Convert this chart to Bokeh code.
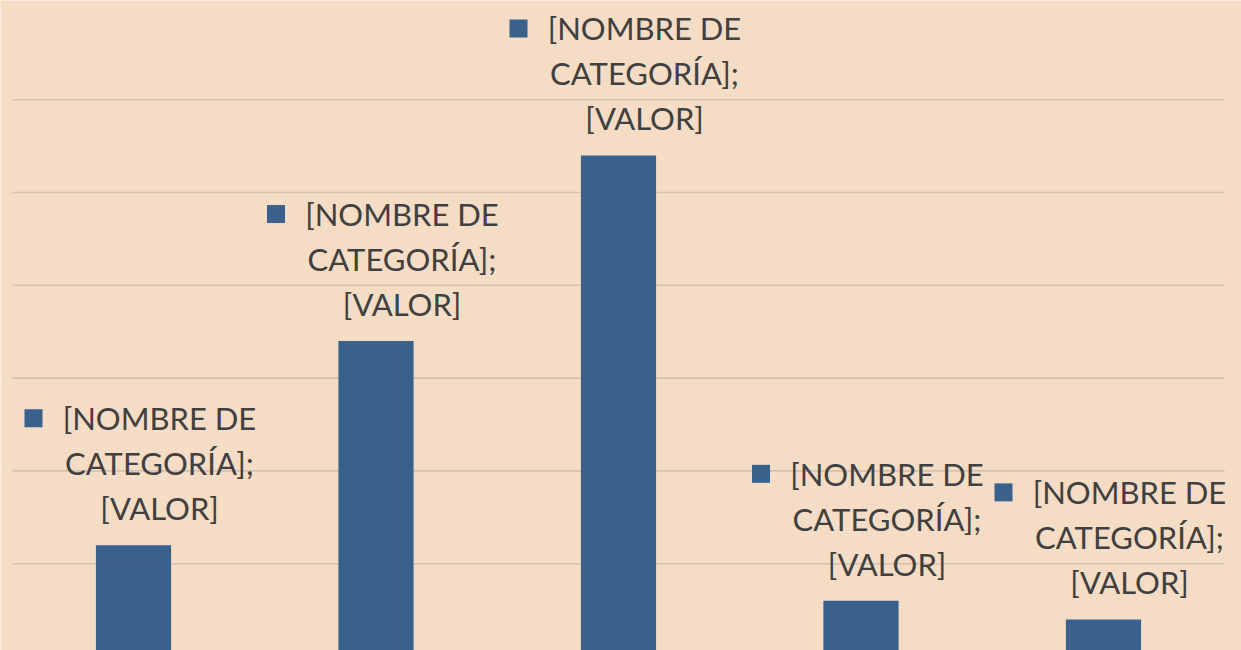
from bokeh.plotting import figure
from bokeh.models import ColumnDataSource, Range1d, LabelSet
from bokeh.core.properties import value
from bokeh.embed import file_html
from bokeh.resources import INLINE

# ---- data ----
categories = ["Cat 1", "Cat 2", "Cat 3", "Cat 4", "Cat 5"]
values = [1.2, 3.4, 5.4, 0.6, 0.4]
label_line1 = ["[NOMBRE DE"] * 5
label_line2 = ["CATEGORÍA];"] * 5
label_line3 = ["[VALOR]"] * 5
grid_ticks = [1, 2, 3, 4, 5, 6]

# ---- styling ----
BG = "#F4DCC5"
BAR = "#3A608C"
GRID = "#D6C2B0"
TXT = "#404040"
FONT = "Lato"

W, H = 1241, 650
n = len(categories)
band_px = 242.5
x_start = -0.5 - 11.75 / band_px
x_end = x_start + W / band_px
y_start, y_end = 0.0647, 7.069
px_per_unit = H / (y_end - y_start)

idx = list(range(n))
src = ColumnDataSource(dict(
    x=idx,
    cats=categories,
    values=values,
    l1=label_line1,
    l2=label_line2,
    l3=label_line3,
    marker_x=[i - 100 / band_px for i in idx],
    marker_y=[v + 127 / px_per_unit for v in values],
))
grid_src = ColumnDataSource(dict(
    x0=[-0.5] * len(grid_ticks), x1=[n - 0.5] * len(grid_ticks), y=grid_ticks))

p = figure(x_range=Range1d(x_start, x_end), y_range=Range1d(y_start, y_end),
           width=W, height=H, output_backend="svg", toolbar_location=None,
           x_axis_location=None, y_axis_location=None,
           min_border_left=0, min_border_right=0, min_border_top=0, min_border_bottom=0)
p.background_fill_color = BG
p.border_fill_color = BG
p.outline_line_color = None
p.xgrid.grid_line_color = None
p.ygrid.grid_line_color = None

p.segment(x0="x0", x1="x1", y0="y", y1="y", source=grid_src,
          line_color=GRID, line_width=1.6)

p.vbar(x="x", top="values", bottom=0, width=0.31, source=src,
       fill_color=BAR, line_color=None)

p.scatter(x="marker_x", y="marker_y", source=src,
          marker="square", size=18, fill_color=BAR, line_color=None)

for col, off in (("l1", 127), ("l2", 82), ("l3", 37)):
    p.add_layout(LabelSet(x="x", y="values", text=col, source=src,
                          x_offset=26, y_offset=off, text_align="center",
                          text_baseline="middle", text_font=value(FONT),
                          text_font_size=value("31px"), text_color=TXT))

open("out.html", "w").write(file_html(p, INLINE))
